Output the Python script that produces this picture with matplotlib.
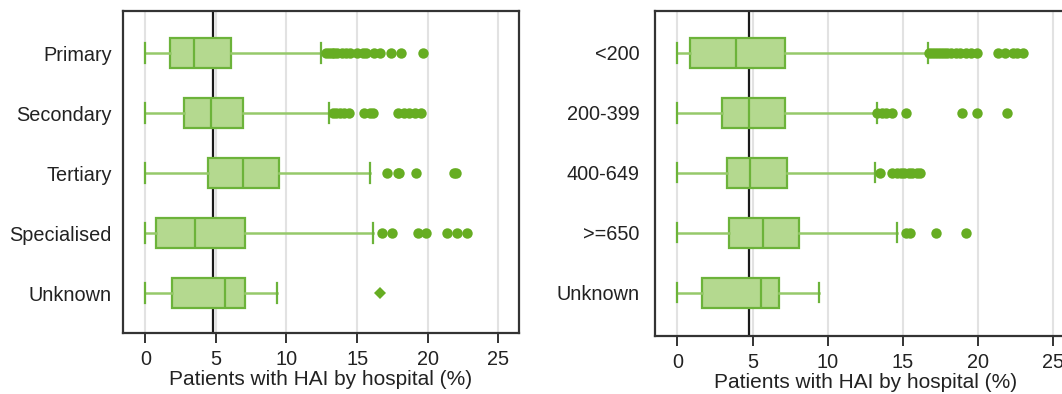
import matplotlib
matplotlib.use("Agg")
import matplotlib.pyplot as plt

# ---------------- data ----------------
left_cats = ["Primary", "Secondary", "Tertiary", "Specialised", "Unknown"]
left_whislo = [0.0, 0.0, 0.0, 0.0, 0.0]
left_q1 = [1.78, 2.75, 4.45, 0.74, 1.9]
left_med = [3.43, 4.64, 6.93, 3.5, 5.63]
left_q3 = [6.06, 6.93, 9.48, 7.05, 7.05]
left_whishi = [12.43, 13.0, 15.95, 16.1, 9.34]
left_fliers = [
    [12.8, 13.0, 13.2, 13.4, 13.6, 13.9, 14.2, 14.5, 15.0, 15.4, 15.6, 16.2, 16.6, 17.4, 18.1, 19.7],
    [13.3, 13.5, 13.8, 14.1, 14.4, 15.5, 15.9, 16.1, 17.9, 18.3, 18.7, 19.1, 19.5],
    [17.1, 17.9, 18.0, 19.2, 21.9, 22.0],
    [16.8, 17.5, 19.3, 19.9, 21.4, 22.1, 22.8],
    [16.6],
]

right_cats = ["<200", "200-399", "400-649", ">=650", "Unknown"]
right_whislo = [0.0, 0.0, 0.0, 0.0, 0.0]
right_q1 = [0.84, 3.0, 3.32, 3.43, 1.62]
right_med = [3.9, 4.78, 4.83, 5.72, 5.56]
right_q3 = [7.16, 7.16, 7.27, 8.09, 6.78]
right_whishi = [16.68, 13.3, 13.14, 14.58, 9.44]
right_fliers = [
    [16.7, 16.9, 17.1, 17.3, 17.5, 17.7, 17.9, 18.2, 18.5, 18.8, 19.2, 19.5, 19.9, 21.3, 21.8, 22.3, 22.6, 23.0],
    [13.3, 13.6, 13.9, 14.3, 15.2, 18.9, 19.9, 21.9],
    [13.5, 14.3, 14.6, 14.9, 15.1, 15.4, 15.6, 15.9, 16.1],
    [15.2, 15.5, 17.2, 19.2],
    [],
]

reference_value = 4.77
xticks = [0, 5, 10, 15, 20, 25]
xlabel = "Patients with HAI by hospital (%)"

# ---------------- style ----------------
FILL = "#b4d98f"
EDGE = "#6cb33a"
WHISK = "#96c96a"
FLIER = "#66ad22"
FONT = "Liberation Sans"

plt.rcParams["font.family"] = [FONT, "DejaVu Sans"]

fig = plt.figure(figsize=(10.62, 3.94), dpi=100)
ax1 = fig.add_axes([122.7 / 1062, 1 - 333.3 / 394, 396.3 / 1062, (333.3 - 11) / 394])
ax2 = fig.add_axes([655 / 1062, 1 - 336 / 394, 421 / 1062, (336 - 10.7) / 394])


def draw(ax, cats, wlo, q1, med, q3, whi, fliers, xlim, ylim, ypad):
    stats = []
    for i in range(len(cats)):
        stats.append(dict(label=cats[i], whislo=wlo[i], q1=q1[i], med=med[i],
                          q3=q3[i], whishi=whi[i], fliers=[]))
    pos = list(range(1, len(cats) + 1))
    ax.bxp(stats, positions=pos, vert=False, widths=0.5, patch_artist=True,
           showfliers=False,
           boxprops=dict(facecolor=FILL, edgecolor=EDGE, linewidth=1.6),
           medianprops=dict(color=EDGE, linewidth=1.6),
           whiskerprops=dict(color=WHISK, linewidth=1.8),
           capprops=dict(color=EDGE, linewidth=1.6),
           capwidths=0.32, zorder=3)
    for i, fl in enumerate(fliers):
        if not fl:
            continue
        if len(fl) == 1 and cats[i] == "Unknown":
            ax.plot(fl, [pos[i]] * len(fl), linestyle="none", marker="D",
                    markersize=6, color=FLIER, markeredgewidth=0, zorder=4)
        else:
            ax.plot(fl, [pos[i]] * len(fl), linestyle="none", marker="o",
                    markersize=7.5, color=FLIER, markeredgewidth=0, zorder=4)
    ax.axvline(reference_value, color="#1a1a1a", linewidth=1.6, zorder=2)
    ax.set_xlim(*xlim)
    ax.set_ylim(*ylim)
    ax.set_xticks(xticks)
    ax.set_xticklabels([str(t) for t in xticks], fontsize=14.3, color="#222222")
    ax.set_yticks(pos)
    ax.set_yticklabels(cats, fontsize=14.3, color="#222222")
    ax.tick_params(axis="y", length=0, pad=ypad)
    ax.tick_params(axis="x", length=7, width=1.4, color="#333333", pad=5)
    ax.grid(axis="x", color="#e2e2e2", linewidth=1.5, zorder=0)
    ax.set_axisbelow(True)
    for s in ax.spines.values():
        s.set_color("#333333")
        s.set_linewidth(1.6)
    ax.set_xlabel(xlabel, fontsize=15, labelpad=1, color="#222222")


draw(ax1, left_cats, left_whislo, left_q1, left_med, left_q3, left_whishi,
     left_fliers, (-1.6, 26.47), (5.67, 0.3), 8)
draw(ax2, right_cats, right_whislo, right_q1, right_med, right_q3, right_whishi,
     right_fliers, (-1.48, 26.5), (5.72, 0.295), 11)

fig.savefig("out.png", dpi=100)
